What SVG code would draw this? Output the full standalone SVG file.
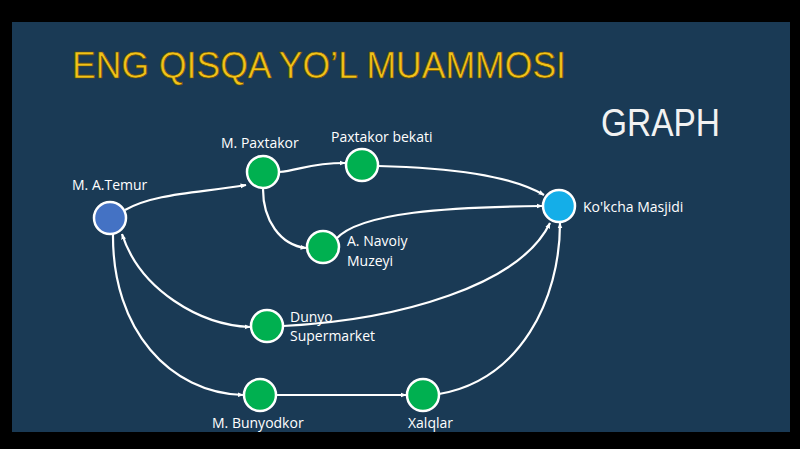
<svg xmlns="http://www.w3.org/2000/svg" width="800" height="449" viewBox="0 0 800 449">
<defs>
<style>
.edge{fill:none;stroke:#ffffff;stroke-width:2.2}
.node{stroke:#ffffff;stroke-width:2.5}
.green{fill:#00b050}
.lbl{font-family:"Open Sans","Noto Sans","Liberation Sans",sans-serif;font-size:14px;fill:#ffffff}
</style>
<marker id="arr" viewBox="0 0 10 10" refX="9" refY="5" markerWidth="6" markerHeight="6" orient="auto-start-reverse" markerUnits="userSpaceOnUse">
<path d="M0,1 L10,5 L0,9 z" fill="#ffffff"/>
</marker>
</defs>
<rect x="0" y="0" width="800" height="449" fill="#000000"/>
<rect x="12" y="22" width="778" height="410" fill="#1a3a55"/>
<text x="72" y="78" font-family="'Liberation Sans',Arial,sans-serif" font-size="36" fill="#f2c21a" stroke="#6b5000" stroke-width="0.7" textLength="494" lengthAdjust="spacingAndGlyphs">ENG QISQA YO’L MUAMMOSI</text>
<text x="601" y="136" font-family="'Liberation Sans',Arial,sans-serif" font-size="38" fill="#f2f2f2" textLength="119" lengthAdjust="spacingAndGlyphs">GRAPH</text>
<g id="connectors">
<path class="edge" marker-end="url(#arr)" d="M125,210 C155,193 200,193 246,185"/>
<path class="edge" marker-end="url(#arr)" d="M279,172 C300,170 310,163 345,163"/>
<path class="edge" marker-end="url(#arr)" d="M263,189 C263,220 280,245 306,248"/>
<path class="edge" marker-end="url(#arr)" d="M378,166 C450,168 510,175 544,195"/>
<path class="edge" marker-end="url(#arr)" d="M336,239 C360,212 450,207 542,206"/>
<path class="edge" marker-end="url(#arr)" d="M283,326 C400,320 520,285 550,223"/>
<path class="edge" marker-end="url(#arr)" d="M439,394 C520,380 560,300 560,223"/>
<path class="edge" marker-start="url(#arr)" marker-end="url(#arr)" d="M122,234 C140,290 200,325 250,327"/>
<path class="edge" marker-end="url(#arr)" d="M113,234 C112,330 170,393 243,395"/>
<path class="edge" marker-end="url(#arr)" d="M276,395 L406,395"/>
</g>
<g id="n-temur"><circle class="node" cx="110" cy="218" r="16" fill="#4472c4"/><text class="lbl" x="72" y="190">M. A.Temur</text></g>
<g id="n-paxtakor"><circle class="node green" cx="263" cy="172" r="16"/><text class="lbl" x="221" y="148">M. Paxtakor</text></g>
<g id="n-bekati"><circle class="node green" cx="362" cy="165" r="16"/><text class="lbl" x="331" y="142">Paxtakor bekati</text></g>
<g id="n-navoiy"><circle class="node green" cx="323" cy="247" r="16"/><text class="lbl" x="347" y="246">A. Navoiy</text><text class="lbl" x="347" y="266">Muzeyi</text></g>
<g id="n-kokcha"><circle class="node" cx="559" cy="206" r="16" fill="#14aee8"/><text class="lbl" x="583" y="212">Ko'kcha Masjidi</text></g>
<g id="n-dunyo"><circle class="node green" cx="267" cy="326" r="16"/><text class="lbl" x="290" y="322">Dunyo</text><text class="lbl" x="290" y="341">Supermarket</text></g>
<g id="n-bunyodkor"><circle class="node green" cx="260" cy="395" r="16"/><text class="lbl" x="212" y="428">M. Bunyodkor</text></g>
<g id="n-xalqlar"><circle class="node green" cx="423" cy="395" r="16"/><text class="lbl" x="408" y="428">Xalqlar</text></g>
</svg>
